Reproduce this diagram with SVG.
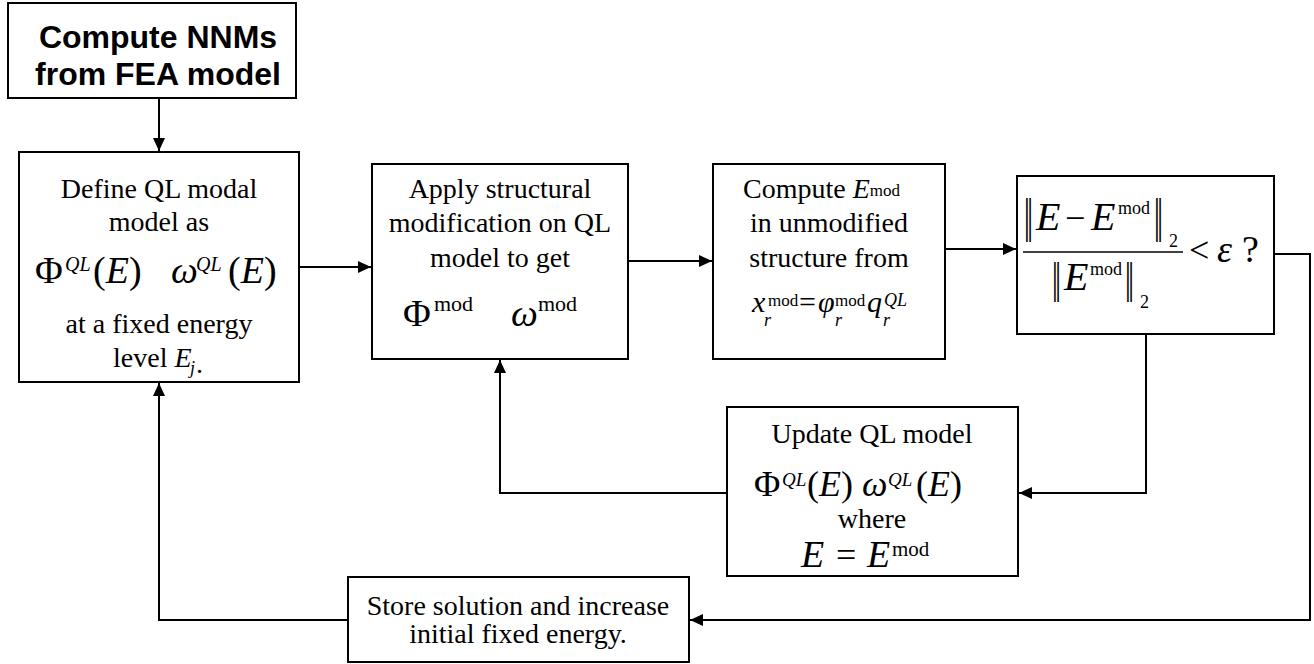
<svg xmlns="http://www.w3.org/2000/svg" width="1314" height="664" viewBox="0 0 1314 664">
<style>
.box{fill:#fff;stroke:#000;stroke-width:2}
.t{font-family:"Liberation Serif","Times New Roman",serif;font-size:28px;fill:#000}
.c{text-anchor:middle}
.m{font-family:"Liberation Serif","Times New Roman",serif;fill:#000}
.i{font-style:italic}
.n{font-style:normal}
.h{font-family:"Liberation Sans",Arial,sans-serif;font-weight:bold;font-size:32px;text-anchor:middle;fill:#000}
.conn{fill:none;stroke:#000;stroke-width:2}
</style>
<defs>
<marker id="arr" markerUnits="userSpaceOnUse" markerWidth="14" markerHeight="14" refX="13" refY="7" orient="auto">
<path d="M0,1 L13,7 L0,13 Z" fill="#000"/>
</marker>
</defs>

<g id="connectors">
<path class="conn" d="M159,98 V151" marker-end="url(#arr)"/>
<path class="conn" d="M299,267 H371" marker-end="url(#arr)"/>
<path class="conn" d="M628,261 H712" marker-end="url(#arr)"/>
<path class="conn" d="M945,249 H1016" marker-end="url(#arr)"/>
<path class="conn" d="M1274,254 H1310 V620 H690" marker-end="url(#arr)"/>
<path class="conn" d="M1146,334 V493 H1019" marker-end="url(#arr)"/>
<path class="conn" d="M727,493 H500 V360" marker-end="url(#arr)"/>
<path class="conn" d="M348,620 H159 V383" marker-end="url(#arr)"/>
</g>

<g id="n1">
<rect class="box" x="8" y="3" width="288" height="95"/>
<text class="h" x="158" y="48">Compute NNMs</text>
<text class="h" x="158" y="85">from FEA model</text>
</g>

<g id="n2">
<rect class="box" x="19" y="152" width="280" height="230"/>
<text class="t c" x="159" y="198">Define QL modal</text>
<text class="t c" x="159" y="231">model as</text>
<text class="m" x="35" y="283" font-size="38">Φ</text>
<text class="m i" x="65" y="271" font-size="20">QL</text>
<text class="m" x="93" y="283" font-size="38">(<tspan class="i">E</tspan>)</text>
<text class="m i" x="171" y="283" font-size="38">ω</text>
<text class="m i" x="196" y="271" font-size="20">QL</text>
<text class="m" x="228" y="283" font-size="38">(<tspan class="i">E</tspan>)</text>
<text class="t c" x="159" y="333">at a fixed energy</text>
<text class="t" x="113" y="367">level <tspan class="i">E</tspan><tspan class="i" font-size="18" x="190" y="374">j</tspan><tspan x="196" y="373">.</tspan></text>
</g>

<g id="n3">
<rect class="box" x="372" y="164" width="256" height="195"/>
<text class="t c" x="500" y="198">Apply structural</text>
<text class="t c" x="500" y="232">modification on QL</text>
<text class="t c" x="500" y="267">model to get</text>
<text class="m" x="403" y="326" font-size="38">Φ</text>
<text class="m" x="434" y="311" font-size="22">mod</text>
<text class="m i" x="511" y="326" font-size="38">ω</text>
<text class="m" x="538" y="311" font-size="22">mod</text>
</g>

<g id="n4">
<rect class="box" x="713" y="164" width="232" height="195"/>
<text class="t" x="743" y="198">Compute <tspan class="i">E</tspan><tspan font-size="17" dy="-2">mod</tspan></text>
<text class="t c" x="829" y="232">in unmodified</text>
<text class="t c" x="829" y="267">structure from</text>
<text class="m i" font-size="30" x="752" y="312">x<tspan font-size="18" x="764" y="326">r</tspan><tspan class="n" font-size="17" x="768" y="306">mod</tspan><tspan class="n" x="799" y="312">=</tspan><tspan x="818" y="312">φ</tspan><tspan font-size="18" x="835" y="326">r</tspan><tspan class="n" font-size="17" x="835" y="306">mod</tspan><tspan x="867" y="312">q</tspan><tspan font-size="18" x="883" y="326">r</tspan><tspan font-size="18" x="884" y="306">QL</tspan></text>
</g>

<g id="n5">
<rect class="box" x="1017" y="176" width="257" height="158"/>
<text class="m" transform="translate(1024,242) scale(1,1.96)" font-size="32">‖</text>
<text class="m i" x="1036" y="230" font-size="40">E</text>
<text class="m" x="1065" y="230" font-size="36">−</text>
<text class="m i" x="1091" y="230" font-size="40">E</text>
<text class="m" x="1118" y="214" font-size="18">mod</text>
<text class="m" transform="translate(1154,242) scale(1,1.96)" font-size="32">‖</text>
<text class="m" x="1169" y="247" font-size="18">2</text>
<line x1="1023" y1="252" x2="1183" y2="252" stroke="#000" stroke-width="1.5"/>
<text class="m" transform="translate(1052,302) scale(1,1.8)" font-size="32">‖</text>
<text class="m i" x="1064" y="290" font-size="40">E</text>
<text class="m" x="1090" y="275" font-size="18">mod</text>
<text class="m" transform="translate(1125,302) scale(1,1.8)" font-size="32">‖</text>
<text class="m" x="1140" y="308" font-size="18">2</text>
<text class="m" x="1189" y="262" font-size="36">&lt;</text>
<text class="m i" x="1217" y="262" font-size="38">ε</text>
<text class="m" x="1242" y="262" font-size="38">?</text>
</g>

<g id="n6">
<rect class="box" x="727" y="407" width="291" height="169"/>
<text class="t c" x="872" y="443">Update QL model</text>
<text class="m" x="754" y="496" font-size="36">Φ</text>
<text class="m i" x="782" y="486" font-size="19">QL</text>
<text class="m" x="807" y="496" font-size="36">(<tspan class="i">E</tspan>)</text>
<text class="m i" x="862" y="496" font-size="36">ω</text>
<text class="m i" x="888" y="486" font-size="19">QL</text>
<text class="m" x="916" y="496" font-size="36">(<tspan class="i">E</tspan>)</text>
<text class="t c" x="872" y="528">where</text>
<text class="m i" x="801" y="567" font-size="38">E</text>
<text class="m" x="836" y="567" font-size="36">=</text>
<text class="m i" x="867" y="567" font-size="38">E</text>
<text class="m" x="892" y="556" font-size="21">mod</text>
</g>

<g id="n7">
<rect class="box" x="348" y="577" width="341" height="85"/>
<text class="t c" x="518" y="615">Store solution and increase</text>
<text class="t c" x="518" y="643">initial fixed energy.</text>
</g>
</svg>
